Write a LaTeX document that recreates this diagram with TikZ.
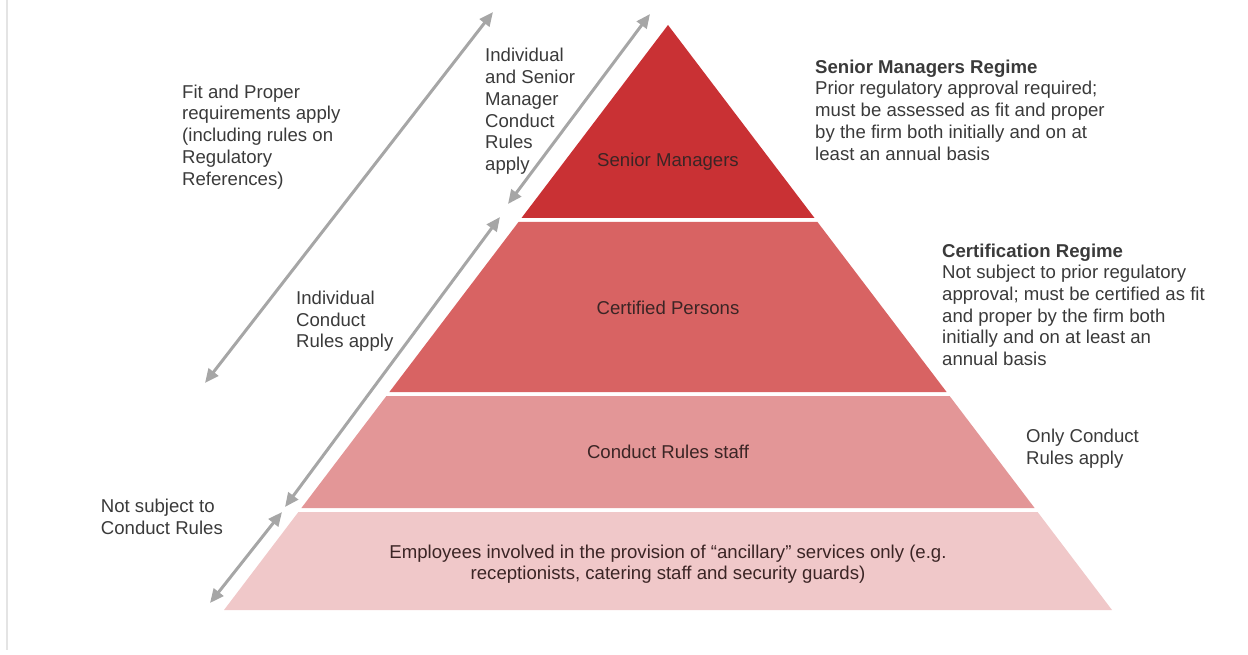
\documentclass[tikz,border=0pt]{standalone}
\usepackage{fontspec}
\setmainfont{Liberation Sans}
\usetikzlibrary{arrows.meta}

\definecolor{tierA}{HTML}{C93134}
\definecolor{tierB}{HTML}{D86363}
\definecolor{tierC}{HTML}{E39697}
\definecolor{tierD}{HTML}{F0C8C9}
\definecolor{txt}{HTML}{3A3A3A}
\definecolor{intxt}{HTML}{3B2525}
\definecolor{arrowgray}{HTML}{A6A6A6}
\definecolor{edge}{HTML}{E4E4E4}

\newcommand{\bodyfont}{\fontsize{18.6}{21.7}\selectfont}

\begin{document}
\begin{tikzpicture}[x=1pt, y=-1pt,
  % multi-line labels are placed by the baseline of their last line
  lbl/.style={font=\bodyfont, text=txt, align=left, inner sep=0pt, anchor=base west},
  tierlbl/.style={font=\bodyfont, text=intxt, align=center, inner sep=0pt, anchor=base},
  span/.style={draw=arrowgray, line width=3pt,
    {Triangle[length=14pt, width=12pt]}-{Triangle[length=14pt, width=12pt]}}]

  % canvas
  \useasboundingbox (0,0) rectangle (1248,655);
  \draw[edge, line width=1.5pt] (7,0) -- (7,650);

  % pyramid tiers (apex at 668,25; half-width grows 0.759 per unit of depth)
  \fill[tierA] (668,25) -- (814.5,218) -- (521.5,218) -- cycle;
  \fill[tierB] (518.5,222) -- (817.5,222) -- (946.6,392) -- (389.4,392) -- cycle;
  \fill[tierC] (386.4,396) -- (949.6,396) -- (1034.6,508) -- (301.4,508) -- cycle;
  \fill[tierD] (298.4,512) -- (1037.6,512) -- (1112,610) -- (224,610) -- cycle;

  % tier labels
  \node[tierlbl] (sm) at (668,167) {Senior Managers};
  \node[tierlbl] (cp) at (668,314) {Certified Persons};
  \node[tierlbl] (crs) at (668,458.3) {Conduct Rules staff};
  \node[tierlbl] (anc) at (668,579.7) {Employees involved in the provision of “ancillary” services only (e.g.\\receptionists, catering staff and security guards)};

  % range arrows
  \coordinate (fpLo) at (205,383);
  \coordinate (fpHi) at (493,12);
  \coordinate (smLo) at (508,204);
  \coordinate (smHi) at (650,14);
  \coordinate (icLo) at (285,507);
  \coordinate (icHi) at (500,217);
  \coordinate (nsLo) at (210,603);
  \coordinate (nsHi) at (282,512);
  \draw[span] (fpLo) -- (fpHi);
  \draw[span] (smLo) -- (smHi);
  \draw[span] (icLo) -- (icHi);
  \draw[span] (nsLo) -- (nsHi);

  % side notes
  \node[lbl] (fitproper) at (182,185.1) {Fit and Proper\\requirements apply\\(including rules on\\Regulatory\\References)};
  \node[lbl] (smcr) at (485,170.5) {Individual\\and Senior\\Manager\\Conduct\\Rules\\apply};
  \node[lbl] (icr) at (296,347.7) {Individual\\Conduct\\Rules apply};
  \node[lbl] (nsub) at (100.7,534) {Not subject to\\Conduct Rules};
  \node[lbl] (smr) at (815,160.1) {\textbf{Senior Managers Regime}\\Prior regulatory approval required;\\must be assessed as fit and proper\\by the firm both initially and on at\\least an annual basis};
  \node[lbl] (cert) at (942,365.5) {\textbf{Certification Regime}\\Not subject to prior regulatory\\approval; must be certified as fit\\and proper by the firm both\\initially and on at least an\\annual basis};
  \node[lbl] (only) at (1026,464.4) {Only Conduct\\Rules apply};
\end{tikzpicture}
\end{document}
